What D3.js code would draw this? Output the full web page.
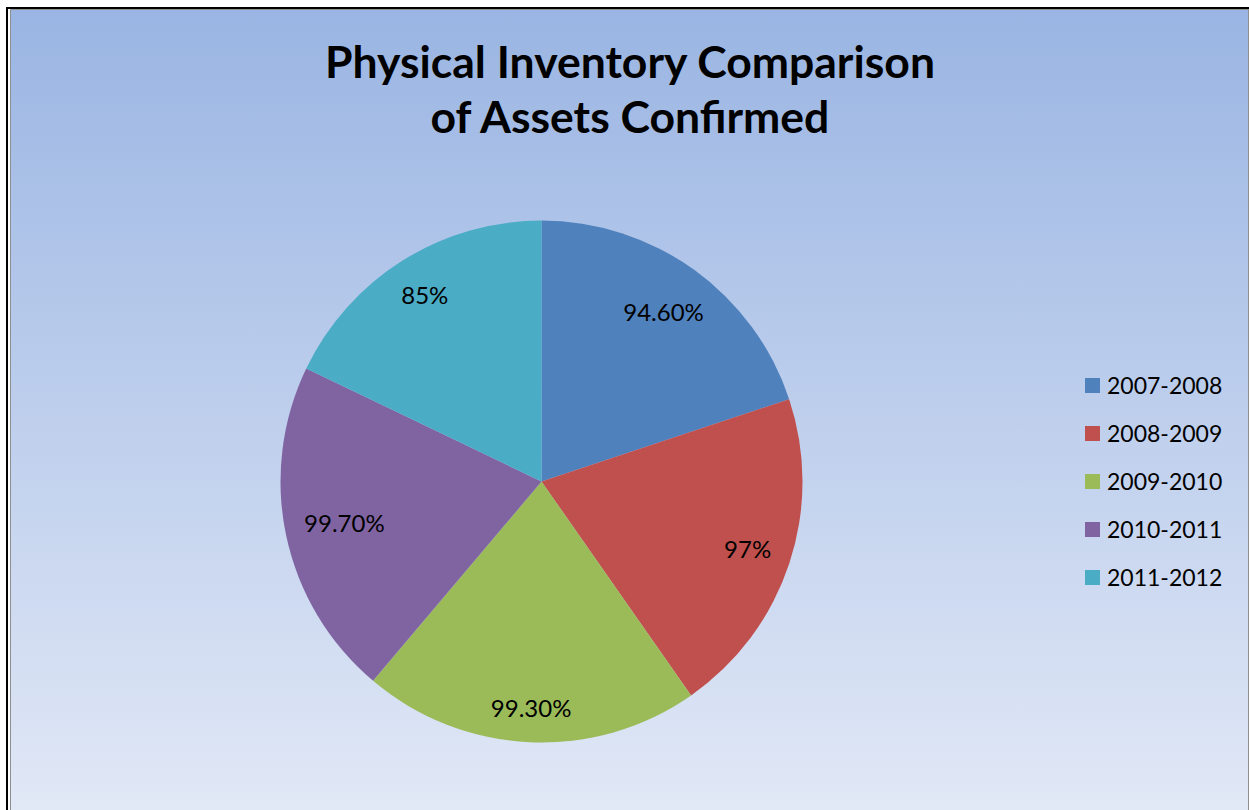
<!DOCTYPE html>
<html>
<head>
<meta charset="utf-8">
<script src="https://cdn.jsdelivr.net/npm/d3@7"></script>
<style>
  html, body { margin: 0; padding: 0; background: #ffffff; }
  svg { display: block; }
</style>
</head>
<body>
<svg id="chart" width="1249" height="810"></svg>
<script>
// Fiscal years and share of assets confirmed during the physical inventory
const years = ["2007-2008", "2008-2009", "2009-2010", "2010-2011", "2011-2012"];
const confirmed = [94.6, 97, 99.3, 99.7, 85];
const valueLabels = ["94.60%", "97%", "99.30%", "99.70%", "85%"];
const sliceColors = ["#4F81BD", "#C0504D", "#9BBB59", "#8064A2", "#4BACC6"];
const titleLines = ["Physical Inventory Comparison", "of Assets Confirmed"];

const W = 1249, H = 810;
const svg = d3.select("#chart");
const font = "Lato, 'Open Sans', 'DejaVu Sans', sans-serif";

// Chart area background: vertical blue-to-pale gradient
const defs = svg.append("defs");
const grad = defs.append("linearGradient")
  .attr("id", "bg").attr("x1", 0).attr("y1", 0).attr("x2", 0).attr("y2", 1);
grad.append("stop").attr("offset", "0%").attr("stop-color", "#9AB5E3");
grad.append("stop").attr("offset", "100%").attr("stop-color", "#E1E8F6");

const area = { x: 11, y: 10 };
svg.append("rect")
  .attr("x", area.x).attr("y", area.y)
  .attr("width", W - area.x).attr("height", H - area.y)
  .attr("fill", "url(#bg)");

// Frame: outer black border and thin grey inner edge
svg.append("path")
  .attr("d", `M${W},8 H7 V${H}`)
  .attr("fill", "none").attr("stroke", "#000").attr("stroke-width", 2);
svg.append("path")
  .attr("d", `M${W},9.5 H10.5 V${H}`)
  .attr("fill", "none").attr("stroke", "#8f8f8f").attr("stroke-width", 1);
svg.append("line")
  .attr("x1", W - 0.5).attr("x2", W - 0.5).attr("y1", 9).attr("y2", H)
  .attr("stroke", "#8f8f8f").attr("stroke-width", 1);

// Title
const title = svg.append("text")
  .attr("text-anchor", "middle")
  .attr("font-family", font)
  .attr("font-weight", "bold")
  .attr("font-size", 44.5)
  .attr("fill", "#000");
titleLines.forEach((t, i) => {
  title.append("tspan").attr("x", 630).attr("y", 78 + i * 55).text(t);
});

// Pie
const cx = 541.5, cy = 481.5, R = 261;
const pie = d3.pie().sort(null).value(d => d);
const arcs = pie(confirmed);
const arc = d3.arc().innerRadius(0).outerRadius(R);
const color = d3.scaleOrdinal().domain(years).range(sliceColors);

const g = svg.append("g").attr("transform", `translate(${cx},${cy})`);
g.selectAll("path.slice")
  .data(arcs)
  .join("path")
  .attr("class", "slice")
  .attr("d", arc)
  .attr("fill", (d, i) => color(years[i]));

// Value labels: pushed toward the rim so each label box stays inside its slice
const labelRim = 244;
const labels = g.selectAll("text.val")
  .data(arcs)
  .join("text")
  .attr("class", "val")
  .attr("text-anchor", "middle")
  .attr("dy", "0.35em")
  .attr("font-family", font)
  .attr("font-size", 24)
  .attr("fill", "#000")
  .text((d, i) => valueLabels[i]);

labels.each(function (d) {
  const bb = this.getBBox();
  const a = (d.startAngle + d.endAngle) / 2;
  const ux = Math.sin(a), uy = -Math.cos(a);
  const reach = (bb.width / 2) * Math.abs(ux) + (bb.height / 2) * Math.abs(uy);
  const dist = labelRim - reach;
  d3.select(this).attr("x", ux * dist).attr("y", uy * dist);
});

// Legend
const legend = svg.append("g").attr("transform", "translate(1085,385.5)");
const rows = legend.selectAll("g.row")
  .data(years)
  .join("g")
  .attr("class", "row")
  .attr("transform", (d, i) => `translate(0,${i * 48})`);
rows.append("rect")
  .attr("x", 0).attr("y", -7.5)
  .attr("width", 15).attr("height", 15)
  .attr("fill", d => color(d));
rows.append("text")
  .attr("x", 22).attr("dy", "0.35em")
  .attr("font-family", font)
  .attr("font-size", 23)
  .attr("fill", "#000")
  .text(d => d);
</script>
</body>
</html>
